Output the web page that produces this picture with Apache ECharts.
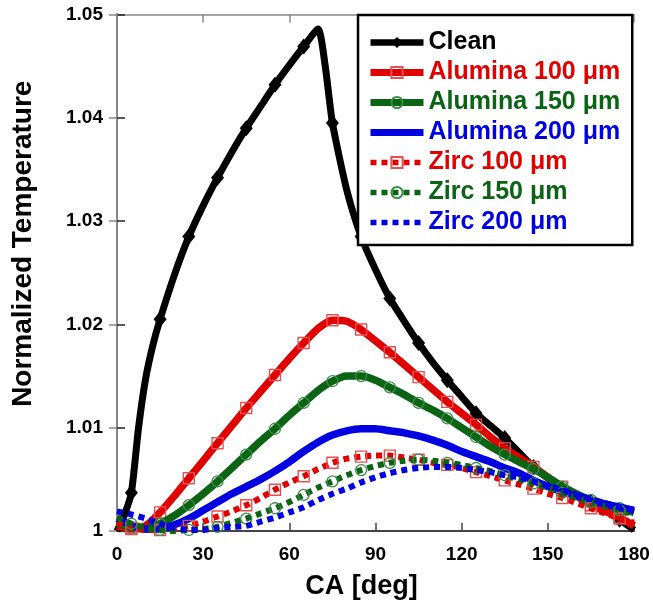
<!DOCTYPE html>
<html>
<head>
<meta charset="utf-8">
<script src="https://cdn.jsdelivr.net/npm/echarts@6/dist/echarts.min.js"></script>
<style>
  html, body { margin: 0; padding: 0; background: #fff; }
  #chart { width: 653px; height: 600px; }
</style>
</head>
<body>
<div id="chart"></div>
<script>
// Crank angle grid (deg) shared by the coated-piston curves
const caDeg = [0, 5, 10, 15, 20, 25, 30, 35, 40, 45, 50, 55, 60, 65, 70, 75, 80, 85, 90,
  95, 100, 105, 110, 115, 120, 125, 130, 135, 140, 145, 150, 155, 160, 165, 170, 175, 180];

// Uncoated piston: finer sampling around the sharp rise and the peak
const cleanCA = [0, 2.5, 5, 7.5, 10, 12.5, 15, 20, 25, 30, 35, 40, 45, 50, 55, 60, 65, 70,
  72.5, 75, 80, 85, 90, 95, 100, 105, 110, 115, 120, 125, 130, 135, 140, 145, 150, 155,
  160, 165, 170, 175, 180];
const cleanT = [1.0000, 1.0015, 1.0037, 1.0100, 1.0148, 1.0180, 1.0205, 1.0248, 1.0285,
  1.0315, 1.0342, 1.0367, 1.0390, 1.0411, 1.0432, 1.0451, 1.0469, 1.0486, 1.0450, 1.0395,
  1.0330, 1.0285, 1.0253, 1.0225, 1.0203, 1.0182, 1.0163, 1.0146, 1.0130, 1.0114, 1.0102,
  1.0090, 1.0076, 1.0062, 1.0051, 1.0041, 1.0034, 1.0028, 1.0020, 1.0011, 1.0001];

const alumina100 = [1.0005, 1.0002, 1.0005, 1.0018, 1.0034, 1.0051, 1.0068, 1.0085, 1.0102,
  1.0119, 1.0135, 1.0151, 1.0167, 1.0182, 1.0196, 1.0204, 1.0203, 1.0195, 1.0184, 1.0173,
  1.0161, 1.0149, 1.0137, 1.0125, 1.0114, 1.0103, 1.0091, 1.0080, 1.0071, 1.0062, 1.0052,
  1.0043, 1.0034, 1.0025, 1.0019, 1.0013, 1.0005];
const alumina150 = [1.0008, 1.0003, 1.0002, 1.0007, 1.0015, 1.0025, 1.0036, 1.0048, 1.0061,
  1.0074, 1.0087, 1.0099, 1.0112, 1.0124, 1.0136, 1.0145, 1.0150, 1.0150, 1.0146, 1.0139,
  1.0132, 1.0124, 1.0117, 1.0109, 1.0100, 1.0091, 1.0082, 1.0074, 1.0067, 1.0060, 1.0052,
  1.0043, 1.0036, 1.0030, 1.0026, 1.0022, 1.0018];
const alumina200 = [1.0012, 1.0006, 1.0002, 1.0002, 1.0006, 1.0012, 1.0020, 1.0028, 1.0036,
  1.0043, 1.0050, 1.0058, 1.0067, 1.0077, 1.0086, 1.0093, 1.0097, 1.0099, 1.0099, 1.0097,
  1.0095, 1.0092, 1.0088, 1.0083, 1.0077, 1.0072, 1.0067, 1.0061, 1.0056, 1.0049, 1.0043,
  1.0038, 1.0034, 1.0030, 1.0026, 1.0023, 1.0020];
const zirc100 = [1.0008, 1.0003, 1.0001, 1.0001, 1.0002, 1.0005, 1.0009, 1.0014, 1.0019,
  1.0025, 1.0032, 1.0040, 1.0047, 1.0053, 1.0060, 1.0066, 1.0070, 1.0072, 1.0073, 1.0073,
  1.0071, 1.0069, 1.0066, 1.0064, 1.0061, 1.0057, 1.0053, 1.0049, 1.0045, 1.0041, 1.0036,
  1.0032, 1.0027, 1.0022, 1.0017, 1.0012, 1.0008];
const zirc150 = [1.0013, 1.0007, 1.0003, 1.0001, 1.0000, 1.0001, 1.0002, 1.0004, 1.0008,
  1.0012, 1.0017, 1.0022, 1.0028, 1.0035, 1.0042, 1.0048, 1.0054, 1.0059, 1.0063, 1.0066,
  1.0068, 1.0069, 1.0068, 1.0066, 1.0064, 1.0061, 1.0058, 1.0054, 1.0050, 1.0046, 1.0042,
  1.0037, 1.0032, 1.0028, 1.0024, 1.0020, 1.0016];
const zirc200 = [1.0019, 1.0016, 1.0012, 1.0007, 1.0003, 1.0001, 1.0001, 1.0003, 1.0004,
  1.0005, 1.0009, 1.0013, 1.0018, 1.0023, 1.0030, 1.0036, 1.0041, 1.0047, 1.0052, 1.0056,
  1.0059, 1.0061, 1.0062, 1.0062, 1.0061, 1.0059, 1.0057, 1.0054, 1.0052, 1.0048, 1.0044,
  1.0040, 1.0035, 1.0031, 1.0027, 1.0023, 1.0020];

const xTicks = [0, 30, 60, 90, 120, 150, 180];
const yTickLabels = ['1', '1.01', '1.02', '1.03', '1.04', '1.05'];

const FONT = '"Liberation Sans", Arial, Helvetica, sans-serif';
const RED = '#e00000';
const GREEN = '#0a6414';
const BLUE = '#0000e0';
const CLEAR = 'rgba(255,255,255,0)';

// Markers sit on every 10 deg, offset by 5 deg
function isMarker(x) { return x % 10 === 5; }

function makeSeries(name, xs, ys, cfg) {
  return {
    name: name,
    type: 'line',
    data: xs.map((x, i) => ({
      value: [x, ys[i]],
      symbol: (cfg.marker && isMarker(x)) ? cfg.symbol : 'none'
    })),
    symbol: cfg.symbol,
    symbolSize: cfg.symbolSize || 10,
    showAllSymbol: true,
    smooth: 0.2,
    clip: false,
    lineStyle: {
      color: cfg.color,
      width: cfg.width,
      type: cfg.dash ? [6, 5] : 'solid',
      cap: 'butt',
      join: 'round'
    },
    itemStyle: cfg.itemStyle,
    emphasis: { disabled: true },
    z: cfg.z
  };
}

const series = [
  makeSeries('Clean', cleanCA, cleanT, {
    marker: true, symbol: 'diamond', symbolSize: [13, 16], color: '#000', width: 7,
    itemStyle: { color: '#000', borderColor: '#000', borderWidth: 0 }, z: 2
  }),
  makeSeries('Alumina 100 \u03bcm', caDeg, alumina100, {
    marker: true, symbol: 'rect', symbolSize: 11, color: RED, width: 7.5,
    itemStyle: { color: CLEAR, borderColor: '#e85050', borderWidth: 1.4 }, z: 3
  }),
  makeSeries('Alumina 150 \u03bcm', caDeg, alumina150, {
    marker: true, symbol: 'circle', symbolSize: 11, color: GREEN, width: 7.5,
    itemStyle: { color: CLEAR, borderColor: '#3c8a48', borderWidth: 1.3 }, z: 4
  }),
  makeSeries('Alumina 200 \u03bcm', caDeg, alumina200, {
    marker: false, symbol: 'circle', color: BLUE, width: 7.5,
    itemStyle: { color: CLEAR, borderWidth: 0 }, z: 5
  }),
  makeSeries('Zirc 100 \u03bcm', caDeg, zirc100, {
    marker: true, symbol: 'rect', symbolSize: 11, color: RED, width: 6, dash: true,
    itemStyle: { color: CLEAR, borderColor: '#e85050', borderWidth: 1.4 }, z: 6
  }),
  makeSeries('Zirc 150 \u03bcm', caDeg, zirc150, {
    marker: true, symbol: 'circle', symbolSize: 11, color: GREEN, width: 6, dash: true,
    itemStyle: { color: CLEAR, borderColor: '#3c8a48', borderWidth: 1.3 }, z: 7
  }),
  makeSeries('Zirc 200 \u03bcm', caDeg, zirc200, {
    marker: false, symbol: 'circle', color: BLUE, width: 6, dash: true,
    itemStyle: { color: CLEAR, borderWidth: 0 }, z: 8
  })
];

const legendColors = ['#000', RED, GREEN, BLUE, RED, GREEN, BLUE];

const chart = echarts.init(document.getElementById('chart'), null, { renderer: 'canvas' });

const tickLine = (color) => ({ show: true, inside: true, length: 8, lineStyle: { color: color, width: 1.5 } });

chart.setOption({
  animation: false,
  backgroundColor: '#fff',
  grid: { left: 117, right: 19, top: 14.5, bottom: 69, containLabel: false, outerBoundsMode: 'none' },
  xAxis: [{
    type: 'value',
    position: 'bottom',
    min: xTicks[0], max: xTicks[xTicks.length - 1], interval: 30,
    name: 'CA [deg]',
    nameLocation: 'middle',
    nameGap: 42,
    nameTextStyle: { fontFamily: FONT, fontWeight: 'bold', fontSize: 27, color: '#000', padding: [0, 28, 0, 0] },
    axisLine: { show: true, lineStyle: { color: '#444', width: 2 } },
    axisTick: tickLine('#444'),
    axisLabel: { margin: 14, fontFamily: FONT, fontWeight: 'bold', fontSize: 19, color: '#000' },
    splitLine: { show: false }
  }, {
    type: 'value',
    position: 'top',
    min: xTicks[0], max: xTicks[xTicks.length - 1], interval: 30,
    axisLine: { show: true, lineStyle: { color: '#888', width: 1.5 } },
    axisTick: tickLine('#888'),
    axisLabel: { show: false },
    splitLine: { show: false }
  }],
  yAxis: [{
    type: 'value',
    position: 'left',
    min: 1, max: 1.05, interval: 0.01,
    name: 'Normalized Temperature',
    nameLocation: 'middle',
    nameGap: 80,
    nameTextStyle: { fontFamily: FONT, fontWeight: 'bold', fontSize: 28, color: '#000', padding: [0, 0, 0, 58] },
    axisLine: { show: true, lineStyle: { color: '#222', width: 2 } },
    axisTick: tickLine('#222'),
    axisLabel: {
      margin: 14, fontFamily: FONT, fontWeight: 'bold', fontSize: 19, color: '#000',
      formatter: (v) => yTickLabels[Math.round((v - 1) * 100)]
    },
    splitLine: { show: false }
  }, {
    type: 'value',
    position: 'right',
    min: 1, max: 1.05, interval: 0.01,
    axisLine: { show: true, lineStyle: { color: '#888', width: 2 } },
    axisTick: tickLine('#888'),
    axisLabel: { show: false },
    splitLine: { show: false }
  }],
  legend: {
    orient: 'vertical',
    left: 358,
    top: 15,
    padding: [15, 12, 10, 9],
    itemWidth: 53,
    itemHeight: 14,
    itemGap: 5,
    itemTextGap: 2,
    backgroundColor: '#fff',
    borderColor: '#000',
    borderWidth: 2.5,
    borderRadius: 0,
    z: 20,
    data: series.map((s, i) => ({
      name: s.name,
      textStyle: { color: legendColors[i] },
      lineStyle: { width: s.lineStyle.width - 0.5 }
    })),
    textStyle: { fontFamily: FONT, fontWeight: 'bold', fontSize: 25, lineHeight: 24 }
  },
  series: series
});
</script>
</body>
</html>
